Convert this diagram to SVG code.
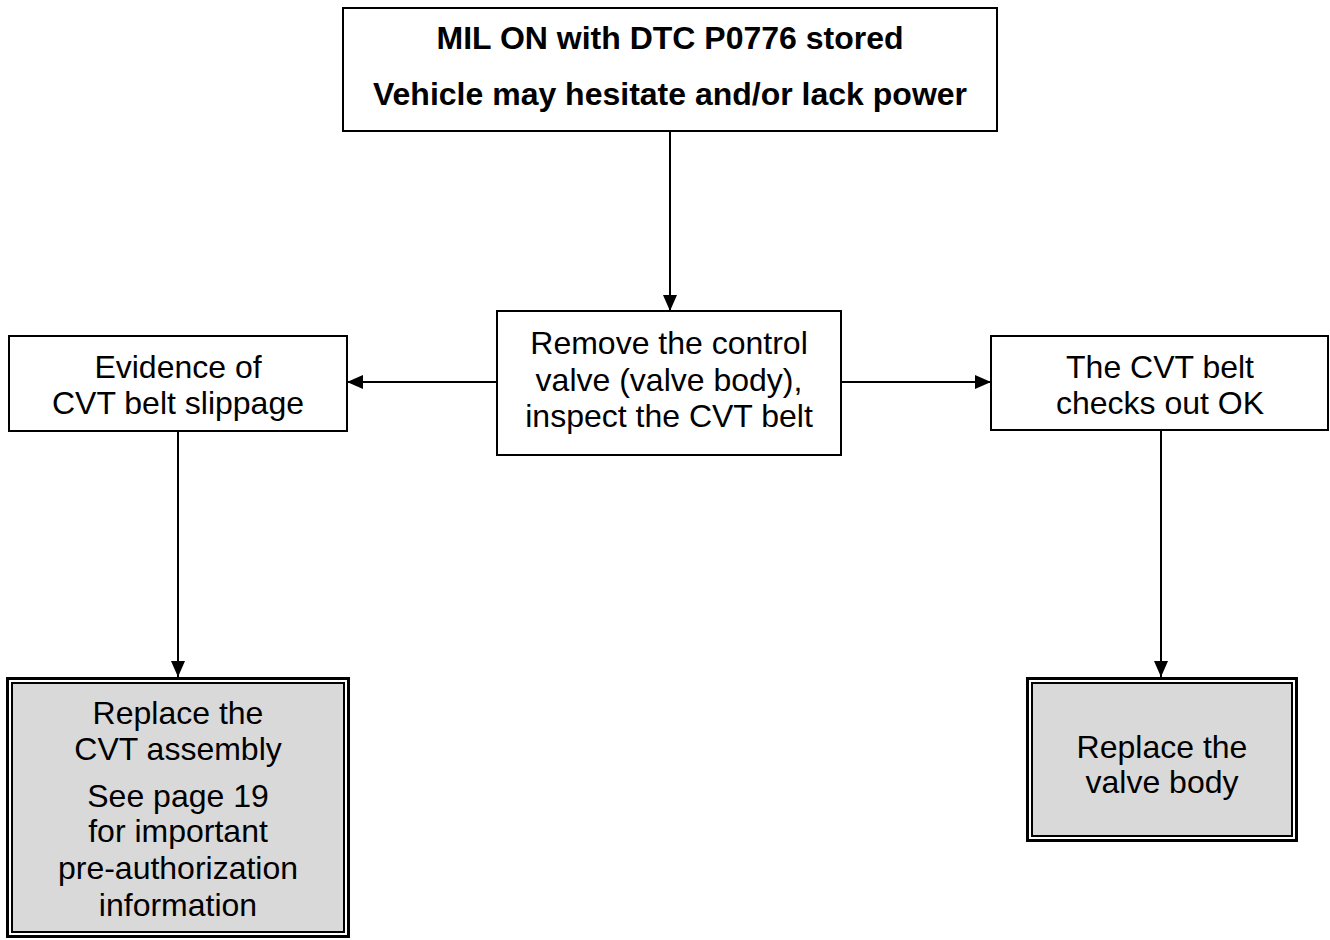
<svg xmlns="http://www.w3.org/2000/svg" width="1330" height="940" viewBox="0 0 1330 940">
<style>
.box{fill:#fff;stroke:#000;stroke-width:2}
.outer{fill:#fff;stroke:#000;stroke-width:3}
.inner{fill:#d9d9d9;stroke:#000;stroke-width:2}
.t{font-family:"Liberation Sans",Arial,sans-serif;font-size:32px;fill:#000;text-anchor:middle}
.b{font-weight:bold}
.c{fill:none;stroke:#000;stroke-width:2}
</style>
<defs>
<marker id="ah" markerUnits="userSpaceOnUse" markerWidth="16" markerHeight="14" viewBox="0 0 16 14" refX="16" refY="7" orient="auto">
<path d="M0,0 L16,7 L0,14 Z" fill="#000"/>
</marker>
</defs>
<g id="connectors">
<line class="c" x1="670" y1="131" x2="670" y2="311" marker-end="url(#ah)"/>
<line class="c" x1="497" y1="382" x2="347" y2="382" marker-end="url(#ah)"/>
<line class="c" x1="841" y1="382" x2="991" y2="382" marker-end="url(#ah)"/>
<line class="c" x1="178" y1="431" x2="178" y2="677" marker-end="url(#ah)"/>
<line class="c" x1="1161" y1="430" x2="1161" y2="677" marker-end="url(#ah)"/>
</g>
<g id="start">
<rect class="box" x="343" y="8" width="654" height="123"/>
<text class="t b" x="670" y="49">MIL ON with DTC P0776 stored</text>
<text class="t b" x="670" y="105">Vehicle may hesitate and/or lack power</text>
</g>
<g id="inspect">
<rect class="box" x="497" y="311" width="344" height="144"/>
<text class="t" x="669" y="354">Remove the control</text>
<text class="t" x="669" y="391">valve (valve body),</text>
<text class="t" x="669" y="427">inspect the CVT belt</text>
</g>
<g id="slippage">
<rect class="box" x="9" y="336" width="338" height="95"/>
<text class="t" x="178" y="378">Evidence of</text>
<text class="t" x="178" y="414">CVT belt slippage</text>
</g>
<g id="beltok">
<rect class="box" x="991" y="336" width="337" height="94"/>
<text class="t" x="1160" y="378">The CVT belt</text>
<text class="t" x="1160" y="414">checks out OK</text>
</g>
<g id="replaceCVT">
<rect class="outer" x="7.5" y="678.5" width="341" height="258"/>
<rect class="inner" x="12" y="683" width="332" height="249"/>
<text class="t" x="178" y="724">Replace the</text>
<text class="t" x="178" y="760">CVT assembly</text>
<text class="t" x="178" y="807">See page 19</text>
<text class="t" x="178" y="842">for important</text>
<text class="t" x="178" y="879">pre-authorization</text>
<text class="t" x="178" y="916">information</text>
</g>
<g id="replaceValve">
<rect class="outer" x="1027.5" y="678.5" width="269" height="162"/>
<rect class="inner" x="1032" y="683" width="260" height="153"/>
<text class="t" x="1162" y="758">Replace the</text>
<text class="t" x="1162" y="793">valve body</text>
</g>
</svg>
